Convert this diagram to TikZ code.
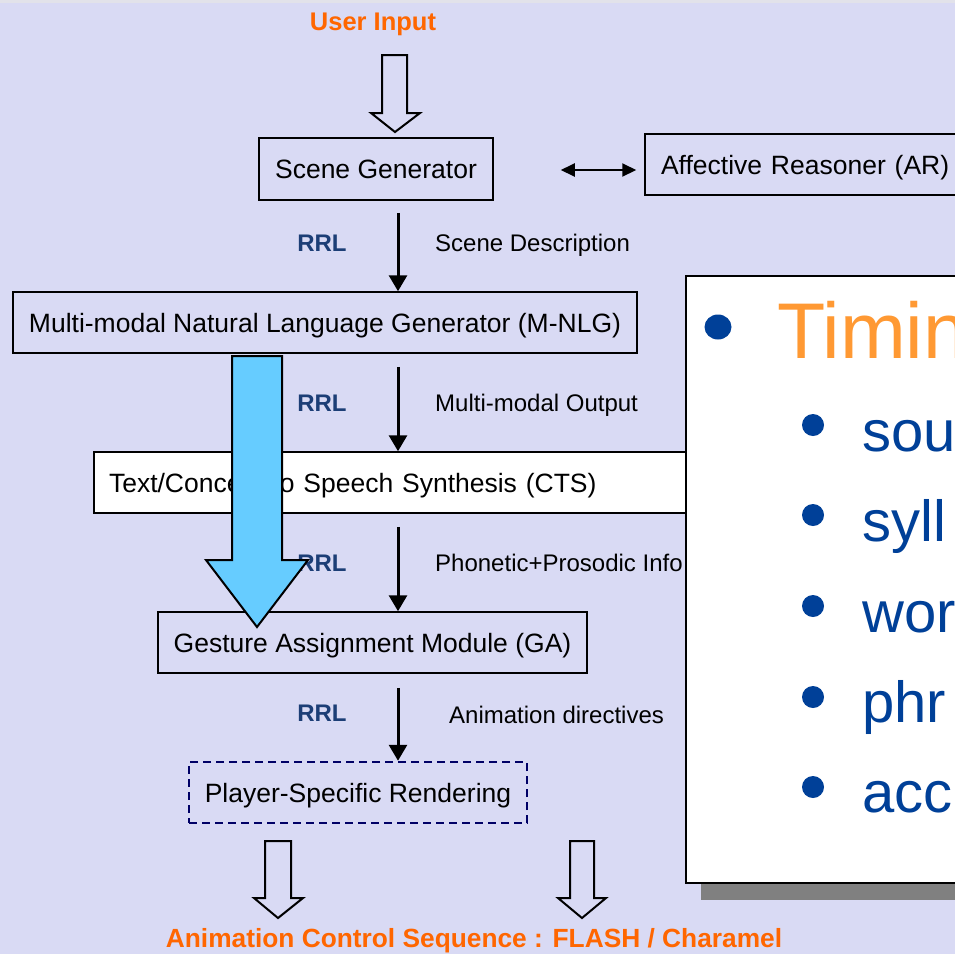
\documentclass[tikz,border=0pt]{standalone}
\usepackage{fontspec}
\setmainfont{Liberation Sans}
\usetikzlibrary{arrows.meta}
\definecolor{bg}{RGB}{217,218,244}
\definecolor{topstrip}{RGB}{226,226,234}
\definecolor{uorange}{RGB}{255,102,0}
\definecolor{torange}{RGB}{255,153,51}
\definecolor{rrlblue}{RGB}{28,62,118}
\definecolor{bulblue}{RGB}{0,64,152}
\definecolor{navy}{RGB}{0,0,102}
\definecolor{skyblue}{RGB}{102,204,255}
\definecolor{shadowgray}{RGB}{128,128,128}
\begin{document}
\begin{tikzpicture}[x=1pt,y=-1pt,
  box/.style={draw=black, line width=1.5pt, rectangle, inner sep=0pt,
    font=\fontsize{26.5}{30}\selectfont, text height=19pt, text depth=0pt},
  lab/.style={font=\fontsize{24}{28}\selectfont, inner sep=0pt, anchor=base west},
  rrl/.style={font=\bfseries\fontsize{24}{28}\selectfont, text=rrlblue, inner sep=0pt, anchor=base},
  title/.style={font=\bfseries\fontsize{25.5}{30}\selectfont, text=uorange, inner sep=0pt, anchor=base},
  flow/.style={line width=3pt, -{Triangle[width=18pt,length=16pt]}},
  dbl/.style={line width=2pt, {Triangle[width=13pt,length=14pt]}-{Triangle[width=13pt,length=14pt]}},
  hollow/.style={draw=black, line width=2pt, fill=bg, line join=miter},
  bigarrow/.style={draw=black, line width=2pt, fill=skyblue, line join=miter},
  subtext/.style={font=\fontsize{58}{64}\selectfont, text=bulblue, inner sep=0pt, anchor=base west}
]
\useasboundingbox (0,0) rectangle (955,954);
\clip (0,0) rectangle (955,954);
\fill[bg] (0,0) rectangle (955,954);
\fill[topstrip] (0,0) rectangle (955,3);

% titles
\node[title] (userin) at (373,30) {User Input};
\node[title, font=\bfseries\fontsize{26.3}{30}\selectfont] (anim) at (474,947) {Animation Control Sequence : FLASH / Charamel};

% hollow input arrow
\draw[hollow] (382,55) -- (407,55) -- (407,113) -- (420,113) -- (395,132) -- (371,113) -- (382,113) -- cycle;

% boxes
\node[box, minimum width=234pt, minimum height=62pt] (scene) at (376,169) {Scene Generator};
\node[box, minimum width=330pt, minimum height=61pt, text width=298pt, align=left] (ar) at (810,164.5) {Affective Reasoner (AR)};
\node[box, minimum width=624pt, minimum height=61pt] (mnlg) at (325,322.5) {Multi-modal Natural Language Generator (M-NLG)};
\node[box, fill=white, minimum width=592pt, minimum height=61pt, text width=562pt, align=left] (cts) at (390,482.5) {Text/Concept to Speech Synthesis (CTS)};
\node[box, minimum width=429pt, minimum height=61pt] (ga) at (372.5,642.5) {Gesture Assignment Module (GA)};
\node[box, draw=navy, line width=2.5pt, dash pattern=on 8pt off 5pt, minimum width=338pt, minimum height=61pt] (psr) at (358,792.5) {Player-Specific Rendering};

% connectors
\coordinate (axis) at (398,0);
\draw[dbl] ([xshift=67pt,yshift=-1pt]scene.east) -- ([xshift=-8pt,yshift=-5.5pt]ar.west);
\draw[flow] ([yshift=-12pt]axis |- scene.south) -- (axis |- mnlg.north);
\draw[flow] ([yshift=-13pt]axis |- mnlg.south) -- (axis |- cts.north);
\draw[flow] ([yshift=-13pt]axis |- cts.south) -- (axis |- ga.north);
\draw[flow] ([yshift=-14pt]axis |- ga.south) -- (axis |- psr.north);

% labels
\node[rrl] (r1) at (322,251) {RRL};
\node[rrl] (r2) at (322,411) {RRL};
\node[rrl] (r3) at (322,571) {RRL};
\node[rrl] (r4) at (322,721) {RRL};
\node[lab] (l1) at (435,251) {Scene Description};
\node[lab] (l2) at (435,411) {Multi-modal Output};
\node[lab] (l3) at (435,571) {Phonetic+Prosodic Info};
\node[lab] (l4) at (449,723) {Animation directives};

% output hollow arrows
\draw[hollow] (265,841) -- (291,841) -- (291,898) -- (303,898) -- (278,918) -- (254,898) -- (265,898) -- cycle;
\draw[hollow] (570,841) -- (594,841) -- (594,898) -- (606,898) -- (582,918) -- (558,898) -- (570,898) -- cycle;

% timing panel
\fill[shadowgray] (701,293) rectangle (990,900);
\draw[line width=2pt, fill=white] (686,276) rectangle (990,883);
\fill[bulblue] (718,327) ellipse[x radius=13.5pt, y radius=12.5pt];
\node[inner sep=0pt, anchor=base west, text=torange, font=\fontsize{79}{90}\selectfont] (timing) at (777,358) {Timin};
\fill[bulblue] (813,425) circle[radius=11pt];
\fill[bulblue] (813,515) circle[radius=11pt];
\fill[bulblue] (813,606) circle[radius=11pt];
\fill[bulblue] (813,697) circle[radius=11pt];
\fill[bulblue] (813,787) circle[radius=11pt];
\node[subtext] (s1) at (862,451) {sou};
\node[subtext] (s2) at (862,541) {syll};
\node[subtext] (s3) at (862,632) {wor};
\node[subtext] (s4) at (862,722) {phr};
\node[subtext] (s5) at (862,812) {acc};

% big blue arrow
\draw[bigarrow] (232,356) -- (282,356) -- (282,560) -- (308,560) -- (257,627) -- (206,560) -- (232,560) -- cycle;
\end{tikzpicture}
\end{document}
